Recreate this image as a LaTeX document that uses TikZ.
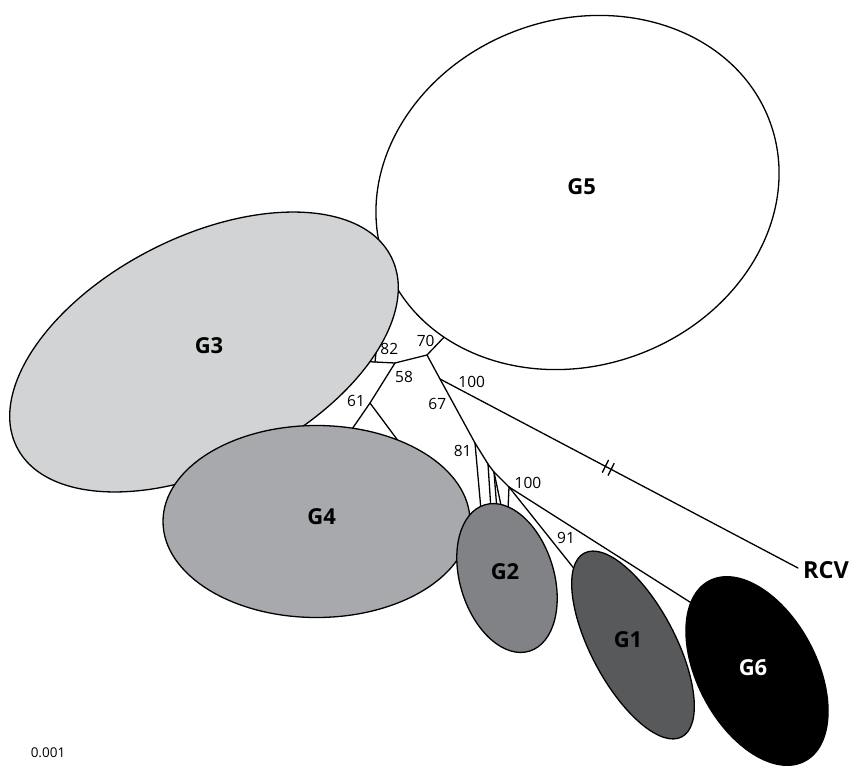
\documentclass[tikz,border=0pt]{standalone}
\usepackage{fontspec}
\setmainfont{Open Sans}
\usetikzlibrary{calc}
\definecolor{gthree}{RGB}{209,211,212}
\definecolor{gfour}{RGB}{167,169,172}
\definecolor{gtwo}{RGB}{128,130,133}
\definecolor{gone}{RGB}{88,89,91}
\tikzset{
  branch/.style={line width=1.3pt, line cap=round, line join=round},
  grp/.style={draw=black, line width=1.3pt},
  glabel/.style={font=\fontsize{22}{22}\selectfont\bfseries, inner sep=0pt},
  boot/.style={font=\fontsize{15.5}{15.5}\selectfont, inner sep=0pt},
}
\begin{document}
\begin{tikzpicture}[x=1pt, y=-1pt]
\useasboundingbox (0,0) rectangle (852,769);

% tree junctions and branch ends
\coordinate (A) at (427,355);
\coordinate (g5a) at (448,333);
\coordinate (B) at (395,363);
\coordinate (n82) at (375,362);
\coordinate (g3a) at (358,361);
\coordinate (g3b) at (378,334);
\coordinate (C) at (370,403);
\coordinate (g4a) at (350,432);
\coordinate (g4b) at (399,442);
\coordinate (D) at (440,379);
\coordinate (rcv) at (798,568);
\coordinate (E) at (475,443);
\coordinate (F) at (488,464);
\coordinate (H) at (494,472);
\coordinate (G) at (509,487);
\coordinate (t1) at (481,510);
\coordinate (t2) at (491,510);
\coordinate (t3) at (497,510);
\coordinate (t4) at (502,510);
\coordinate (t5) at (508,510);
\coordinate (g1a) at (576,571);
\coordinate (g6a) at (693,604);
\coordinate (brk1) at ($(D)!0.462!(rcv)$);
\coordinate (brk2) at ($(D)!0.478!(rcv)$);

% branches
\draw[branch] (g5a) -- (A) -- (B) -- (n82) -- (g3a);
\draw[branch] (n82) -- (g3b);
\draw[branch] (B) -- (C) -- (g4a);
\draw[branch] (C) -- (g4b);
\draw[branch] (A) -- (D) -- (E) -- (F) -- (H) -- (G);
\draw[branch] (D) -- (rcv);
\draw[branch] (E) -- (t1);
\draw[branch] (F) -- (t2);
\draw[branch] (H) -- (t3);
\draw[branch] (H) -- (t4);
\draw[branch] (G) -- (t5);
\draw[branch] (G) -- (g1a);
\draw[branch] (G) -- (g6a);
\draw[branch] ($(brk1)+(-3,6)$) -- ($(brk1)+(3,-6)$);
\draw[branch] ($(brk2)+(-3,6)$) -- ($(brk2)+(3,-6)$);

% groups
\coordinate (c5) at (577.5,192.5);
\coordinate (c3) at (204,352);
\coordinate (c4) at (316.5,521.5);
\coordinate (c2) at (507,578);
\coordinate (c1) at (633,645);
\coordinate (c6) at (757,671);
\draw[grp, fill=white, rotate around={20:(c5)}] (c5) ellipse [x radius=205pt, y radius=173pt];
\draw[grp, fill=gthree, rotate around={27:(c3)}] (c3) ellipse [x radius=210pt, y radius=115pt];
\draw[grp, fill=gfour] (c4) ellipse [x radius=153.5pt, y radius=96pt];
\draw[grp, fill=gtwo, rotate around={107:(c2)}] (c2) ellipse [x radius=76.5pt, y radius=47pt];
\draw[grp, fill=gone, rotate around={118:(c1)}] (c1) ellipse [x radius=104pt, y radius=42pt];
\draw[grp, fill=black, rotate around={118:(c6)}] (c6) ellipse [x radius=102pt, y radius=59.5pt];

% group labels
\node[glabel] (lG5) at (581.7,186.7) {G5};
\node[glabel] (lG3) at (209,346) {G3};
\node[glabel] (lG4) at (321.7,516.7) {G4};
\node[glabel] (lG2) at (505,572) {G2};
\node[glabel] (lG1) at (628,640) {G1};
\node[glabel, text=white] (lG6) at (753,668) {G6};
\node[glabel, font=\fontsize{23.5}{23.5}\selectfont\bfseries, anchor=west] (lRCV) at (803,570) {RCV};

% bootstrap values
\node[boot] (b70) at (425.7,340.7) {70};
\node[boot] (b82) at (389.3,349.3) {82};
\node[boot] (b58) at (404,376.7) {58};
\node[boot] (b61) at (356,400.7) {61};
\node[boot] (b100a) at (471.7,381.7) {100};
\node[boot] (b67) at (437.3,404) {67};
\node[boot] (b81) at (462.7,450.7) {81};
\node[boot] (b100b) at (528,483) {100};
\node[boot] (b91) at (566,538) {91};
\node[boot, font=\fontsize{13.5}{13.5}\selectfont] (scale) at (48,753) {0.001};
\end{tikzpicture}
\end{document}
